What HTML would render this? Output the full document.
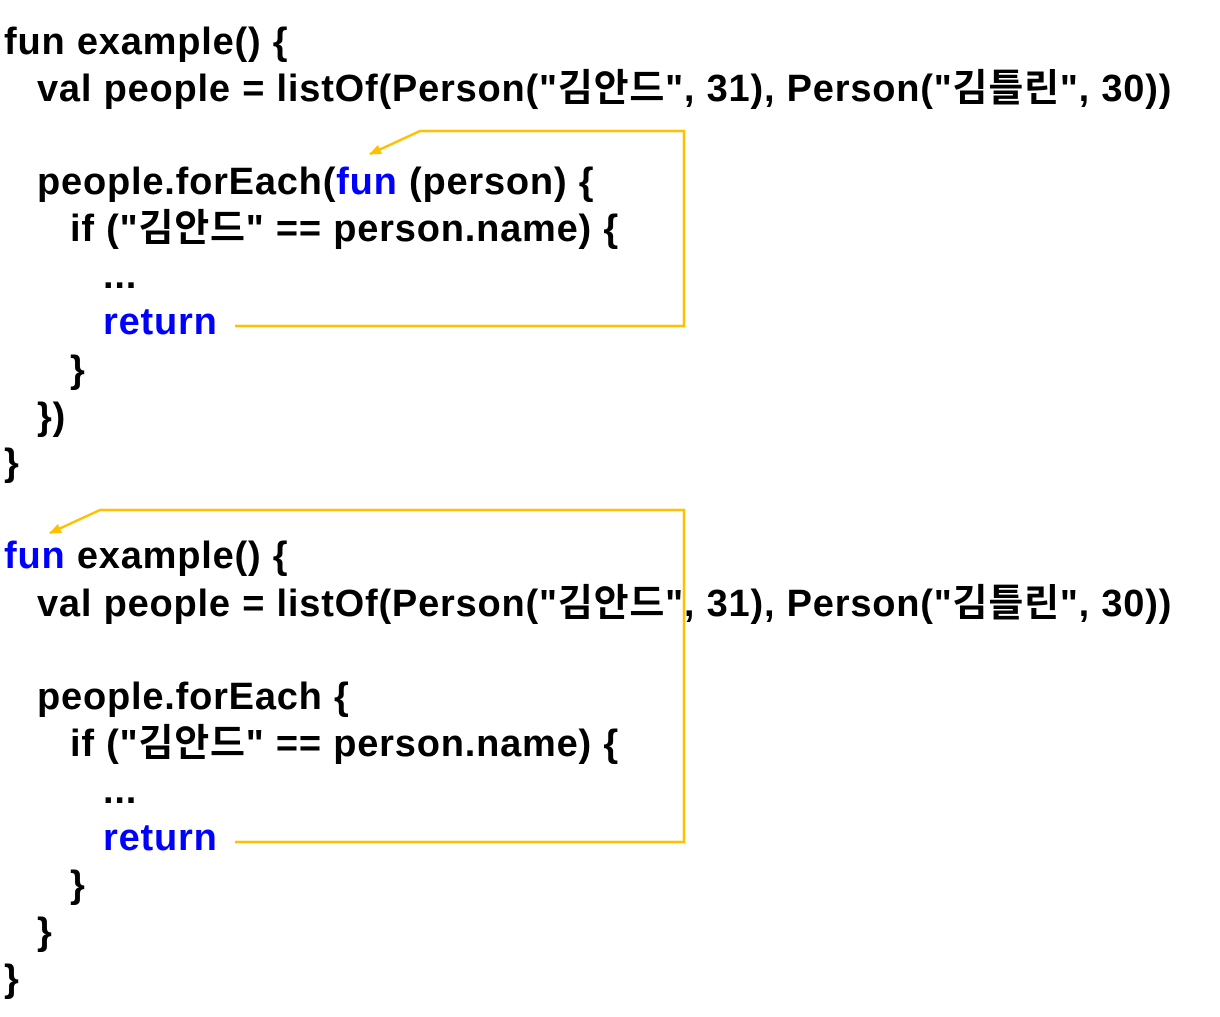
<!DOCTYPE html>
<html><head><meta charset="utf-8"><style>
body{margin:0;width:1220px;height:1017px;background:#fff;position:relative;overflow:hidden}
div.l{position:absolute;height:46px;line-height:46px;font-family:"Liberation Sans","Noto Sans CJK KR",sans-serif;font-weight:bold;font-size:38px;letter-spacing:0.8px;color:#000;white-space:pre}
.b{color:#0000ff}
svg{position:absolute;left:0;top:0}
</style></head><body>
<div class="l" style="left:4px;top:19px">fun example() {</div>
<div class="l" style="left:37px;top:66px">val people = listOf(Person("김안드", 31), Person("김틀린", 30))</div>
<div class="l" style="left:37px;top:159px">people.forEach(<span class="b">fun</span> (person) {</div>
<div class="l" style="left:70px;top:206px">if ("김안드" == person.name) {</div>
<div class="l" style="left:103px;top:253px">...</div>
<div class="l" style="left:103px;top:299px"><span class="b">return</span></div>
<div class="l" style="left:70px;top:347px">}</div>
<div class="l" style="left:37px;top:394px">})</div>
<div class="l" style="left:4px;top:440px">}</div>
<div class="l" style="left:4px;top:533px"><span class="b">fun</span> example() {</div>
<div class="l" style="left:37px;top:581px">val people = listOf(Person("김안드", 31), Person("김틀린", 30))</div>
<div class="l" style="left:37px;top:674px">people.forEach {</div>
<div class="l" style="left:70px;top:721px">if ("김안드" == person.name) {</div>
<div class="l" style="left:103px;top:768px">...</div>
<div class="l" style="left:103px;top:815px"><span class="b">return</span></div>
<div class="l" style="left:70px;top:862px">}</div>
<div class="l" style="left:37px;top:909px">}</div>
<div class="l" style="left:4px;top:956px">}</div>
<svg width="1220" height="1017">
<defs><marker id="a" markerWidth="12" markerHeight="10" refX="11" refY="5" orient="auto" markerUnits="userSpaceOnUse"><path d="M0,0 L12,5 L0,10 z" fill="#FFC000"/></marker></defs>
<polyline points="235,326 684,326 684,131 420,131 370,154" fill="none" stroke="#FFC000" stroke-width="2.5" marker-end="url(#a)"/>
<polyline points="235,842 684,842 684,510 100,510 50,533" fill="none" stroke="#FFC000" stroke-width="2.5" marker-end="url(#a)"/>
</svg>
</body></html>
